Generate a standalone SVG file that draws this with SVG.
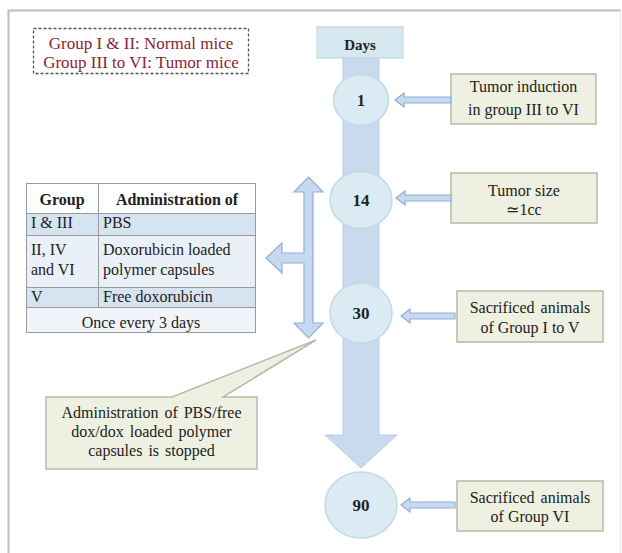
<svg xmlns="http://www.w3.org/2000/svg" width="622" height="553" viewBox="0 0 622 553">
<style>
text{font-family:"Liberation Serif","Times New Roman",serif;fill:#222;}
.t{font-size:16px;text-anchor:middle;}
.tl{font-size:16px;}
.b{font-weight:bold;}
.leg{font-size:17px;text-anchor:middle;fill:#8a2432;}
.box{fill:#eef0e1;stroke:#b7baa9;stroke-width:1.5;}
.circ{fill:#dbebf3;stroke:#c2dae6;stroke-width:1.5;}
.arr{fill:#c7d9f0;stroke:#8fb0d8;stroke-width:1.2;}
.grid{stroke:#9a9a9a;stroke-width:1;fill:none;}
</style>
<rect x="0" y="0" width="622" height="553" fill="#ffffff"/>
<g id="frame">
<path d="M8.5,560 L8.5,10.5 L620.5,10.5" fill="none" stroke="#bdbdbd" stroke-width="2"/>
<path d="M620.5,11 L620.5,560" fill="none" stroke="#ececec" stroke-width="1"/>
</g>
<g id="legend">
<rect x="33.5" y="28.5" width="215" height="45" fill="#ffffff" stroke="#555" stroke-width="1.3" stroke-dasharray="3,2"/>
<text class="leg" x="141" y="49">Group I &amp; II: Normal mice</text>
<text class="leg" x="141" y="68">Group III to VI: Tumor mice</text>
</g>
<g id="timeline">
<path d="M343,58 L379,58 L379,435 L397,435 L361,468 L325,435 L343,435 Z" fill="#c9d9ee" stroke="#b9cde8" stroke-width="1"/>
</g>
<g id="days">
<rect x="317" y="27" width="86" height="31" fill="#d6e8ef" stroke="#b9d3de" stroke-width="1"/>
<text class="t b" x="360" y="50" style="font-size:15px">Days</text>
</g>
<g id="day1">
<ellipse class="circ" cx="361" cy="100" rx="27.5" ry="25.5"/>
<text class="t b" x="361" y="106">1</text>
</g>
<g id="day14">
<ellipse class="circ" cx="361" cy="200" rx="31" ry="28.5"/>
<text class="t b" x="361" y="206" style="font-size:17px">14</text>
</g>
<g id="day30">
<ellipse class="circ" cx="361" cy="313" rx="31" ry="30"/>
<text class="t b" x="361" y="319" style="font-size:17px">30</text>
</g>
<g id="day90">
<ellipse class="circ" cx="361" cy="505" rx="36" ry="33"/>
<text class="t b" x="361" y="511" style="font-size:17px">90</text>
</g>
<g id="note1">
<rect class="box" x="451" y="74" width="145" height="50"/>
<text class="t" x="523.5" y="92">Tumor induction</text>
<text class="t" x="523.5" y="115">in group III to VI</text>
</g>
<g id="note14">
<rect class="box" x="451" y="173" width="146" height="50"/>
<text class="t" x="524" y="196">Tumor size</text>
<text class="t" x="524" y="215">≃1cc</text>
</g>
<g id="note30">
<rect class="box" x="457" y="291" width="146" height="51"/>
<text class="t" x="530" y="313" style="word-spacing:2px">Sacrificed animals</text>
<text class="t" x="530" y="333">of Group I to V</text>
</g>
<g id="note90">
<rect class="box" x="457" y="481" width="146" height="50"/>
<text class="t" x="530" y="503" style="word-spacing:2px">Sacrificed animals</text>
<text class="t" x="530" y="522">of Group VI</text>
</g>
<g id="table">
<rect x="26" y="183" width="230" height="30" fill="#ffffff"/>
<rect x="26" y="213" width="230" height="22" fill="#d6e3f1"/>
<rect x="26" y="235" width="230" height="52" fill="#eaf0f8"/>
<rect x="26" y="287" width="230" height="20" fill="#d6e3f1"/>
<rect x="26" y="307" width="230" height="26" fill="#f1f5fa"/>
<rect class="grid" x="26.5" y="183.5" width="229" height="149"/>
<path class="grid" d="M26.5,213.5 H255.5 M26.5,235.5 H255.5 M26.5,287.5 H255.5 M26.5,307.5 H255.5 M98.5,183.5 V307.5"/>
<text class="t b" x="62" y="205">Group</text>
<text class="t b" x="177" y="205">Administration of</text>
<text class="tl" x="31" y="228">I &amp; III</text>
<text class="tl" x="103" y="228">PBS</text>
<text class="tl" x="31" y="255">II, IV</text>
<text class="tl" x="31" y="275">and VI</text>
<text class="tl" x="103" y="255">Doxorubicin loaded</text>
<text class="tl" x="103" y="275">polymer capsules</text>
<text class="tl" x="31" y="302">V</text>
<text class="tl" x="103" y="302">Free doxorubicin</text>
<text class="t" x="141" y="328">Once every 3 days</text>
</g>
<g id="callout">
<path class="box" d="M46,397 L172,397 L316,340 L223,397 L257,397 L257,469 L46,469 Z"/>
<text class="t" x="151.5" y="418" style="word-spacing:2px">Administration of PBS/free</text>
<text class="t" x="151.5" y="437" style="word-spacing:2px">dox/dox loaded polymer</text>
<text class="t" x="151.5" y="456" style="word-spacing:2px">capsules is stopped</text>
</g>
<g id="connectors">
<path class="arr" d="M308.5,177 L323,192 L313,192 L313,323 L323,323 L308.5,338 L294,323 L304,323 L304,263 L282,263 L282,273 L266,258 L282,243 L282,253 L304,253 L304,192 L294,192 Z"/>
<path class="arr" d="M395,100 L404,93 L404,97 L451,97 L451,103 L404,103 L404,107 Z"/>
<path class="arr" d="M396,198 L405,191 L405,195 L451,195 L451,201 L405,201 L405,205 Z"/>
<path class="arr" d="M401,316 L410,309 L410,313 L455,313 L455,319 L410,319 L410,323 Z"/>
<path class="arr" d="M401,505 L410,498 L410,502 L455,502 L455,508 L410,508 L410,512 Z"/>
</g>
</svg>
